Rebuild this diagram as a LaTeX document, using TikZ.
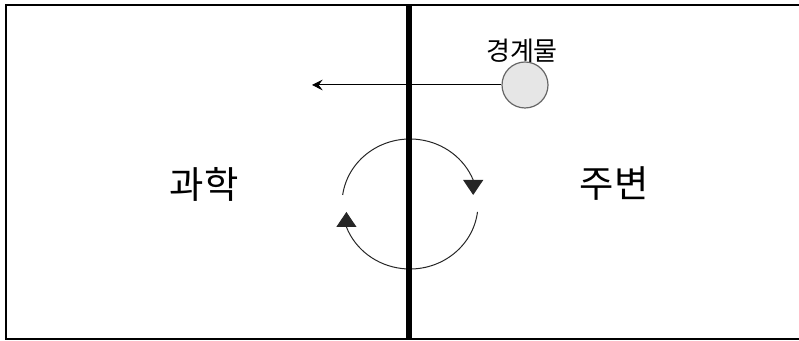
\documentclass[tikz,border=0pt]{standalone}
\usepackage{fontspec}
\setmainfont{Noto Sans CJK KR}
\usetikzlibrary{arrows.meta}
\definecolor{ballfill}{HTML}{E6E6E6}
\definecolor{ballline}{HTML}{666666}
\begin{document}
\begin{tikzpicture}[x=0.75pt,y=-0.75pt,
  frame/.style={draw=black,line width=1pt},
  wall/.style={line width=4.5pt,draw=black},
  ball/.style={circle,draw=ballline,fill=ballfill,line width=0.9pt,minimum size=34.5pt,inner sep=0pt},
  bigtext/.style={font=\fontsize{28}{32}\selectfont,inner sep=0pt},
  smalltext/.style={font=\fontsize{19.5}{22}\selectfont,inner sep=0pt},
  flow/.style={draw=black,line width=0.75pt,-{Stealth[length=8pt,width=8pt,inset=3pt]}},
  loopline/.style={draw=black!85,line width=0.75pt},
  loop/.style={draw=black!85,line width=0.75pt,-{Triangle[width=15pt,length=11.25pt]}}]
\useasboundingbox (0,0) rectangle (799,341);
\draw[frame] (6,5) rectangle (803,339);
\node[ball] (b) at (525,85) {};
\coordinate (t) at (312,85);
\draw[flow] (b.west) -- (t);
\node[smalltext] (lbl) at (522,51) {경계물};
\node[bigtext] (sci) at (204,184) {과학};
\node[bigtext] (env) at (614,184) {주변};
\coordinate (c) at (410,204);
\draw[loopline] ([shift={(188:68 and 65)}]c) arc[start angle=188,end angle=338.3,x radius=68,y radius=65] coordinate (a1);
\draw[loop] (a1) -- ++(0,15);
\draw[loopline] ([shift={(7:68 and 65)}]c) arc[start angle=7,end angle=159.3,x radius=68,y radius=65] coordinate (a2);
\draw[loop] (a2) -- ++(0,-15);
\coordinate (wt) at (409,5);
\coordinate (wb) at (409,339);
\draw[wall] (wt) -- (wb);
\end{tikzpicture}
\end{document}
